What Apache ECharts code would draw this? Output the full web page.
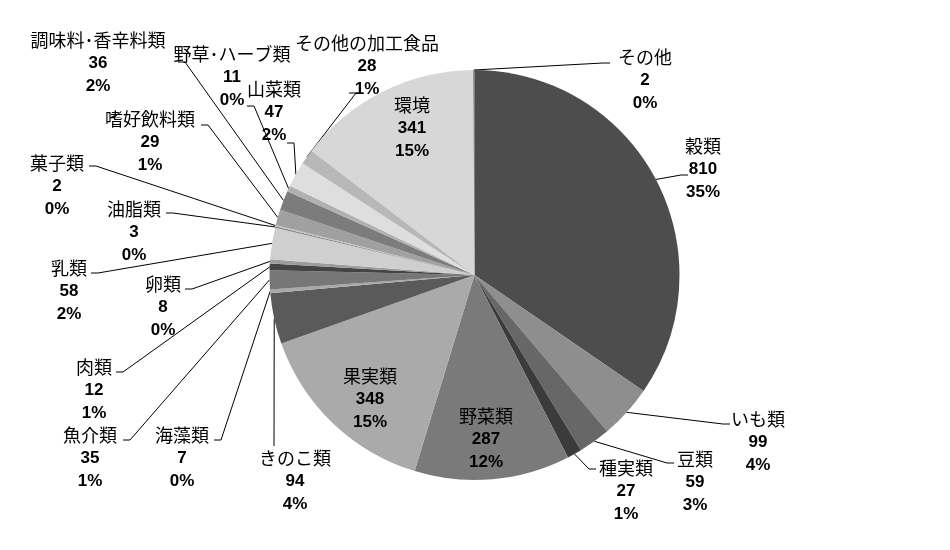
<!DOCTYPE html>
<html><head><meta charset="utf-8">
<script src="https://cdn.jsdelivr.net/npm/echarts@6/dist/echarts.min.js"></script>
<style>html,body{margin:0;padding:0;background:#fff}#c{width:950px;height:550px}</style>
</head><body><div id="c"></div>
<script>
const categories = ['穀類','いも類','豆類','種実類','野菜類','果実類','きのこ類','海藻類','魚介類','肉類','卵類','乳類','油脂類','菓子類','嗜好飲料類','調味料･香辛料類','野草･ハーブ類','山菜類','その他の加工食品','環境','その他'];
const values = [810, 99, 59, 27, 287, 348, 94, 7, 35, 12, 8, 58, 3, 2, 29, 36, 11, 47, 28, 341, 2];
const colors = ['#4d4d4d','#8e8e8e','#676767','#3b3b3b','#7a7a7a','#aaaaaa','#5a5a5a','#a9a9a9','#777777','#444444','#9c9c9c','#cfcfcf','#8a8a8a','#c0c0c0','#a0a0a0','#7c7c7c','#b0b0b0','#dedede','#b8b8b8','#d7d7d7','#5a5a5a'];
const insideLabels = ['野菜類','果実類','環境'];
// label placement (style): [centerX, middleLineY, lineEndX, lineEndY, side]
const labelPlace = [
  [703,169, 688,175, 1],
  [758,442, 730,424, 1],
  [695,482, 674,463, 1],
  [626,491, 596,469, 1],
  [486,439],
  [370,399],
  [295,481, 274,446, 0],
  [182,458, 214,440, -1],
  [90,458, 123,440, -1],
  [94,390, 116,372, -1],
  [163,307, 185,289, -1],
  [69,291, 91,273, -1],
  [134,232, 166,213, -1],
  [57,186, 89,166, -1],
  [150,142, 201,125, -1],
  [98,63, 178,62, -1],
  [232,77, 247,106, -1],
  [274,112, 287,143, -1],
  [367,66, 349,93, -1],
  [412,128],
  [645,80, 610,63, 1]
];
const total = values.reduce((a, b) => a + b, 0);

const chart = echarts.init(document.getElementById('c'));
chart.setOption({
  animation: false,
  backgroundColor: '#fff',
  series: [{
    type: 'pie',
    center: [474.5, 275],
    radius: 205,
    startAngle: 90,
    clockwise: true,
    avoidLabelOverlap: false,
    itemStyle: { borderWidth: 0 },
    emphasis: { disabled: true },
    label: {
      show: true,
      position: 'outside',
      width: 180,
      overflow: 'none',
      align: 'center',
      formatter: function (p) {
        return '{n|' + p.name + '}\n{v|' + p.value + '}\n{v|' + Math.round(p.value / total * 100) + '%}';
      },
      rich: {
        n: { fontFamily: 'Noto Sans CJK JP', fontSize: 18, color: '#000', lineHeight: 23, align: 'center' },
        v: { fontFamily: 'Liberation Sans', fontWeight: 'bold', fontSize: 17, color: '#000', lineHeight: 23, align: 'center' }
      }
    },
    labelLine: { show: true, smooth: false, lineStyle: { color: '#000', width: 1 } },
    labelLayout: function (p) {
      const lp = labelPlace[p.dataIndex];
      const res = { x: lp[0], y: lp[1], align: 'center', verticalAlign: 'middle' };
      if (lp.length > 2 && p.labelLinePoints) {
        const s = p.labelLinePoints[0];
        const end = [lp[2], lp[3]];
        const bend = [lp[2] - lp[4] * 7, lp[3]];
        res.labelLinePoints = [s, bend, end];
      }
      return res;
    },
    data: categories.map(function (c, i) {
      const inside = insideLabels.indexOf(c) >= 0;
      return {
        name: c,
        value: values[i],
        itemStyle: { color: colors[i] },
        label: inside ? { position: 'inside' } : undefined,
        labelLine: inside ? { show: false } : undefined
      };
    })
  }]
});
</script>
</body></html>
